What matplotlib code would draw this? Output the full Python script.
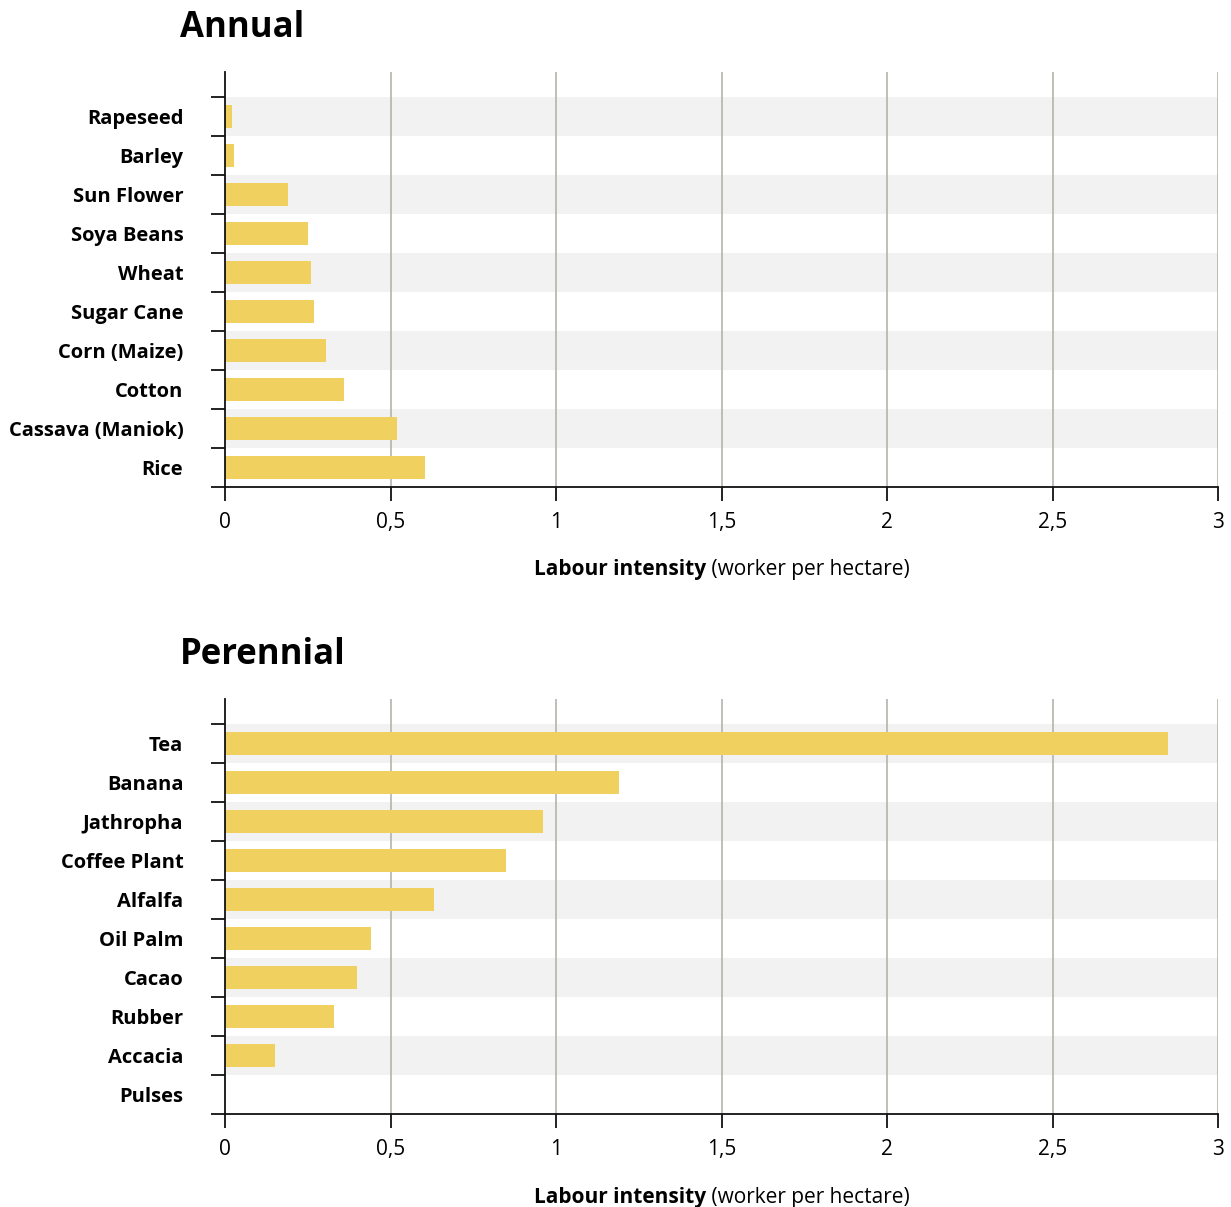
import matplotlib.pyplot as plt
from matplotlib.ticker import FuncFormatter, FixedLocator

# data
annual_crops = ["Rapeseed", "Barley", "Sun Flower", "Soya Beans", "Wheat",
                "Sugar Cane", "Corn (Maize)", "Cotton", "Cassava (Maniok)", "Rice"]
annual_values = [0.02, 0.027, 0.19, 0.25, 0.26, 0.27, 0.305, 0.36, 0.52, 0.605]

perennial_crops = ["Tea", "Banana", "Jathropha", "Coffee Plant", "Alfalfa",
                   "Oil Palm", "Cacao", "Rubber", "Accacia", "Pulses"]
perennial_values = [2.85, 1.19, 0.96, 0.85, 0.63, 0.44, 0.40, 0.33, 0.15, 0.0]

x_ticks = [0, 0.5, 1, 1.5, 2, 2.5, 3]

plt.rcParams['font.family'] = ['Open Sans', 'DejaVu Sans']

BAR = "#f0d160"
BAND = "#f2f2f2"
GRID = "#b4b4ae"

fig = plt.figure(figsize=(12.31, 12.07), dpi=100)


def comma(v, pos):
    s = ("%g" % v).replace(".", ",")
    return s


def panel(rect, crops, values, title):
    ax = fig.add_axes(rect)
    n = len(crops)
    pos = list(range(n))
    for i in pos:
        if i % 2 == 0:
            ax.axhspan(i - 0.5, i + 0.5, color=BAND, lw=0, zorder=0)
    for xt in x_ticks[1:]:
        ax.axvline(xt, color=GRID, lw=1.2, zorder=1)
    ax.barh(pos, values, height=0.6, color=BAR, zorder=2)
    ax.set_xlim(0, 3)
    ax.set_ylim(n - 0.5, -0.5 - 25 / 39)

    ax.set_yticks(pos)
    ax.set_yticklabels(crops, fontsize=14.5, fontweight="bold")
    ax.yaxis.set_minor_locator(FixedLocator([i - 0.5 for i in range(n + 1)]))
    ax.tick_params(axis="y", which="major", length=0, pad=30)
    ax.tick_params(axis="y", which="minor", length=10, width=1.3, color="#111111")

    ax.set_xticks(x_ticks)
    ax.xaxis.set_major_formatter(FuncFormatter(comma))
    ax.tick_params(axis="x", length=10, width=1.3, pad=8, labelsize=15,
                   color="#111111")

    for s in ["top", "right"]:
        ax.spines[s].set_visible(False)
    for s in ["left", "bottom"]:
        ax.spines[s].set_linewidth(1.3)
        ax.spines[s].set_color("#111111")
        ax.spines[s].set_zorder(3)

    ax.text(-45 / 993, 1.0 + 44 / 415, title, transform=ax.transAxes,
            fontsize=25, fontweight="bold", va="center", ha="left")

    lab = ax.text(0.5, -0.2, "Labour intensity", transform=ax.transAxes,
                  fontsize=15, fontweight="bold", ha="right", va="center")
    ax.annotate(" (worker per hectare)", xycoords=lab, xy=(1, 0.5),
                va="center", ha="left", fontsize=15)
    return ax, lab


a1, l1 = panel([225 / 1231, 1 - 487 / 1207, 993 / 1231, 415 / 1207],
               annual_crops, annual_values, "Annual")
a2, l2 = panel([225 / 1231, 1 - 1114 / 1207, 993 / 1231, 415 / 1207],
               perennial_crops, perennial_values, "Perennial")

# centre the two-part x label under the axis
fig.canvas.draw()
r = fig.canvas.get_renderer()
for ax, lab in [(a1, l1), (a2, l2)]:
    w1 = lab.get_window_extent(r).width
    ann = [c for c in ax.texts if c is not lab and c.get_text().startswith(" (")][0]
    w2 = ann.get_window_extent(r).width
    axw = ax.get_window_extent(r).width
    lab.set_x(0.5 + (w1 - (w1 + w2) / 2) / axw)

fig.savefig("out.png", dpi=100)
